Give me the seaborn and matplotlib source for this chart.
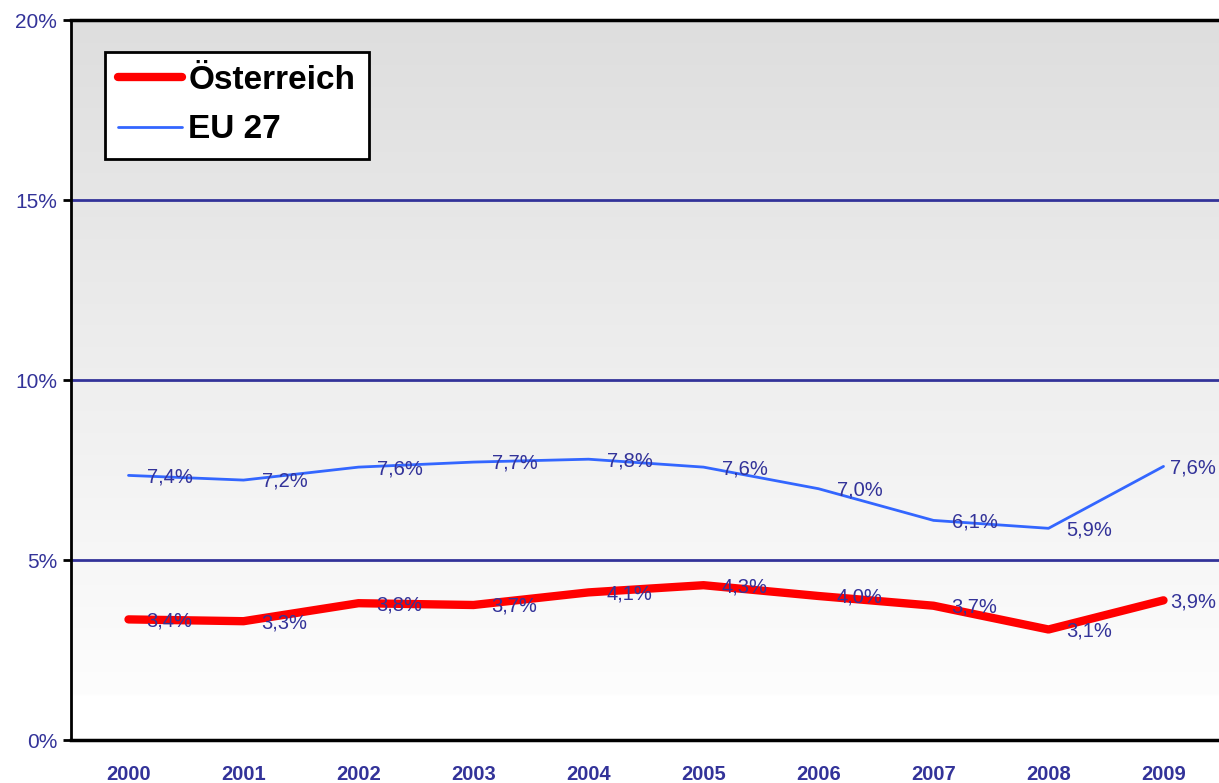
import numpy as np
import pandas as pd
import matplotlib
matplotlib.use("Agg")
import matplotlib.pyplot as plt
import seaborn as sns

years = ["2000", "2001", "2002", "2003", "2004", "2005", "2006", "2007", "2008", "2009"]
austria = [3.35, 3.3, 3.8, 3.75, 4.1, 4.3, 4.0, 3.73, 3.07, 3.88]
eu27 = [7.35, 7.22, 7.58, 7.72, 7.8, 7.58, 6.98, 6.1, 5.88, 7.6]
austria_labels = ["3,4%", "3,3%", "3,8%", "3,7%", "4,1%", "4,3%", "4,0%", "3,7%", "3,1%", "3,9%"]
eu27_labels = ["7,4%", "7,2%", "7,6%", "7,7%", "7,8%", "7,6%", "7,0%", "6,1%", "5,9%", "7,6%"]
yticks = [0, 5, 10, 15, 20]
ytick_labels = ["0%", "5%", "10%", "15%", "20%"]

df = pd.DataFrame({
    "idx": list(range(len(years))) * 2,
    "value": austria + eu27,
    "series": ["Österreich"] * len(years) + ["EU 27"] * len(years),
})

sns.set_style("white")
plt.rcParams["font.family"] = ["Liberation Sans", "DejaVu Sans"]

navy = "#333399"
fig = plt.figure(figsize=(12.19, 7.83), dpi=100)
ax = fig.add_axes([71 / 1219, 43 / 783, 1150 / 1219, 720 / 783])

# gray (top) to white (bottom) background gradient
grad = np.concatenate([np.linspace(222, 253, 240), np.full(16, 255)])
img = np.repeat(grad[:, None], 2, axis=1) / 255.0
ax.imshow(np.dstack([img, img, img]), extent=[-0.5, 9.5, 0, 20], origin="upper",
          aspect="auto", zorder=0)

for y in [5, 10, 15]:
    ax.axhline(y, color=navy, lw=2, zorder=1)

sns.lineplot(data=df[df.series == "Österreich"], x="idx", y="value", color="#ff0000",
             lw=6, ax=ax, label="Österreich", zorder=3, solid_capstyle="round")
sns.lineplot(data=df[df.series == "EU 27"], x="idx", y="value", color="#3366ff",
             lw=2, ax=ax, label="EU 27", zorder=3)

for vals, labs in [(austria, austria_labels), (eu27, eu27_labels)]:
    for i, (v, t) in enumerate(zip(vals, labs)):
        dx = 5 if i == len(vals) - 1 else 13
        ax.annotate(t, (i, v), xytext=(dx, -1), textcoords="offset points",
                    ha="left", va="center", fontsize=14.5, color=navy, zorder=4)

ax.set_xlim(-0.5, 9.5)
ax.set_ylim(0, 20)
ax.set_xticks(range(len(years)))
ax.set_xticklabels(years, fontsize=14.5, fontweight="bold", color=navy)
ax.set_xticks(np.arange(-0.5, 10, 1), minor=True)
ax.tick_params(axis="x", which="major", length=0, pad=18)
ax.tick_params(axis="x", which="minor", length=6, width=2, color="black", direction="out")
ax.set_yticks(yticks)
ax.set_yticklabels(ytick_labels, fontsize=15, color=navy)
ax.tick_params(axis="y", length=6, width=2, color="black", direction="out", left=True, pad=4)
ax.set_xlabel("")
ax.set_ylabel("")

for s in ["left", "bottom", "top"]:
    ax.spines[s].set_visible(True)
    ax.spines[s].set_color("black")
ax.spines["left"].set_linewidth(2)
ax.spines["bottom"].set_linewidth(2.5)
ax.spines["top"].set_linewidth(2.5)
ax.spines["right"].set_visible(False)

leg = ax.legend(loc="upper left", bbox_to_anchor=(0.0296, 0.956), frameon=True, fancybox=False,
                prop={"size": 24, "weight": "bold"}, handlelength=1.9, handletextpad=0.2,
                labelspacing=0.55, borderpad=0.4, borderaxespad=0)
for t in leg.get_texts():
    t.set_color("black")
leg.get_frame().set_edgecolor("black")
leg.get_frame().set_linewidth(2)
leg.get_frame().set_facecolor("white")
leg.get_frame().set_alpha(1)

fig.savefig("out.png", dpi=100)
